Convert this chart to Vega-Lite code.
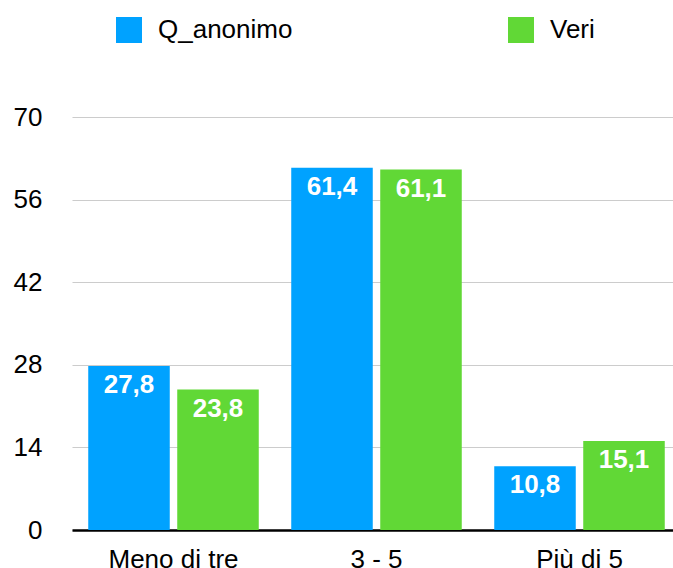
{
  "$schema": "https://vega.github.io/schema/vega-lite/v6.json",
  "autosize": {"type": "none"},
  "width": 609,
  "height": 413,
  "padding": {"left": 72, "top": 117, "right": 0, "bottom": 38},
  "background": "white",
  "config": {
    "locale": {"number": {"decimal": ",", "thousands": ".", "grouping": [3], "currency": ["€", ""]}},
    "font": "Liberation Sans",
    "view": {"stroke": null}
  },
  "data": {
    "values": [
      {"cat": "Meno di tre", "serie": "Q_anonimo", "v": 27.8},
      {"cat": "Meno di tre", "serie": "Veri", "v": 23.8},
      {"cat": "3 - 5", "serie": "Q_anonimo", "v": 61.4},
      {"cat": "3 - 5", "serie": "Veri", "v": 61.1},
      {"cat": "Più di 5", "serie": "Q_anonimo", "v": 10.8},
      {"cat": "Più di 5", "serie": "Veri", "v": 15.1}
    ]
  },
  "encoding": {
    "x": {
      "field": "cat", "type": "nominal", "sort": ["Meno di tre", "3 - 5", "Più di 5"],
      "scale": {"paddingInner": 0.16, "paddingOuter": 0.08},
      "axis": {"title": null, "labelAngle": 0, "labelFontSize": 26, "labelColor": "#000", "labelPadding": 16, "ticks": false, "domainColor": "#000", "domainWidth": 2.5, "labelFont": "Liberation Sans"}
    },
    "xOffset": {"field": "serie", "type": "nominal", "scale": {"paddingInner": 0.084, "paddingOuter": 0}},
    "y": {
      "field": "v", "type": "quantitative",
      "scale": {"domain": [0, 70], "nice": false},
      "axis": {"title": null, "values": [0, 14, 28, 42, 56, 70], "labelFontSize": 26, "labelColor": "#000", "labelPadding": 30, "ticks": false, "domain": false, "gridColor": "#cccccc", "gridWidth": 1.2, "labelFont": "Liberation Sans"}
    }
  },
  "layer": [
    {
      "mark": {"type": "bar"},
      "encoding": {
        "color": {
          "field": "serie", "type": "nominal",
          "scale": {"domain": ["Q_anonimo", "Veri"], "range": ["#00A2FF", "#61D836"]},
          "legend": {
            "title": null, "orient": "none", "legendX": 44, "legendY": -100,
            "direction": "horizontal", "columns": 2, "columnPadding": 215,
            "symbolType": "square", "symbolSize": 676, "symbolStrokeWidth": 0,
            "labelFontSize": 26, "labelColor": "#000", "labelOffset": 16, "labelFont": "Liberation Sans"
          }
        }
      }
    },
    {
      "mark": {"type": "text", "color": "white", "fontWeight": "bold", "fontSize": 26, "baseline": "alphabetic", "dy": 27, "font": "Liberation Sans"},
      "encoding": {
        "text": {"field": "v", "type": "quantitative", "format": ".1f"}
      }
    }
  ]
}
